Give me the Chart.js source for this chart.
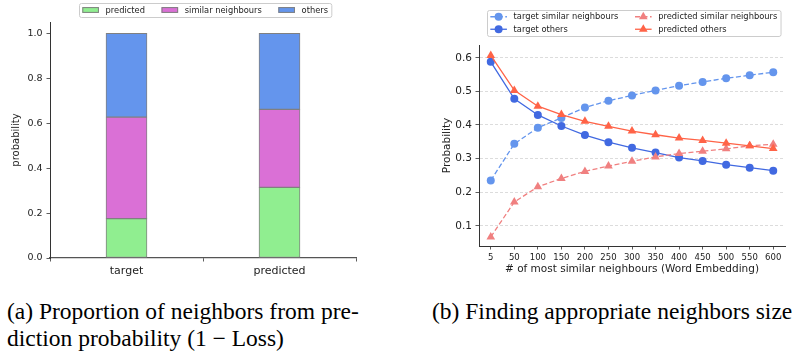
<html>
<head>
<script src="https://cdn.jsdelivr.net/npm/chart.js"></script>
<style>
  body { margin:0; width:797px; height:358px; background:#fff; position:relative; overflow:hidden; }
  .box { position:absolute; top:0; height:285px; }
  .cap { position:absolute; font-family:"Liberation Serif","Times New Roman",serif; font-size:23.5px; line-height:27px; color:#000; white-space:nowrap; }
</style>
</head>
<body>
<div class="box" style="left:0;width:400px"><canvas id="barChart"></canvas></div>
<div class="box" style="left:400px;width:397px"><canvas id="lineChart"></canvas></div>
<div class="cap" style="left:7px;top:298px">(a) Proportion of neighbors from pre-<br>diction probability (1 &minus; Loss)</div>
<div class="cap" style="left:432px;top:298px">(b) Finding appropriate neighbors size</div>
<script>
// left chart: stacked proportions
var barCategories = ['target', 'predicted'];
var barPredicted = [0.175, 0.314];
var barSimilar = [0.452, 0.347];
var barOthers = [0.373, 0.339];

// right chart: probability vs neighbour count
var neighbourSizes = ['5', '50', '100', '150', '200', '250', '300', '350', '400', '450', '500', '550', '600'];
var targetSimilar = [0.235, 0.344, 0.392, 0.421, 0.452, 0.472, 0.488, 0.503, 0.517, 0.528, 0.539, 0.548, 0.557];
var targetOthers = [0.588, 0.478, 0.430, 0.397, 0.370, 0.349, 0.332, 0.318, 0.303, 0.293, 0.282, 0.273, 0.264];
var predictedSimilar = [0.067, 0.171, 0.216, 0.241, 0.262, 0.278, 0.292, 0.305, 0.315, 0.322, 0.329, 0.338, 0.343];
var predictedOthers = [0.607, 0.503, 0.456, 0.431, 0.411, 0.396, 0.382, 0.371, 0.361, 0.354, 0.346, 0.338, 0.330];

Chart.defaults.font.family = '"DejaVu Sans", sans-serif';
Chart.defaults.color = '#222';

// matplotlib-like framed legend drawn on the canvas
var frameLegend = {
  id: 'frameLegend',
  afterDraw: function(chart, args, opts) {
    var ctx = chart.ctx;
    var ds = chart.data.datasets;
    var cols = opts.cols, rows = Math.ceil(ds.length / cols);
    var fs = opts.fontSize;
    var handle = 2 * fs, textPad = 0.8 * fs, colSpace = 2 * fs, pad = 0.4 * fs;
    ctx.save();
    ctx.font = fs + 'px "DejaVu Sans"';
    var colW = [];
    for (var c = 0; c < cols; c++) {
      var w = 0;
      for (var r = 0; r < rows; r++) {
        var i = c * rows + r;
        if (i < ds.length) w = Math.max(w, ctx.measureText(ds[i].label).width);
      }
      colW.push(w);
    }
    var width = pad * 2 + colSpace * (cols - 1);
    colW.forEach(function(w) { width += handle + textPad + w; });
    var height = opts.firstRow * 2 + opts.rowH * (rows - 1);

    ctx.fillStyle = 'rgba(255,255,255,0.85)';
    ctx.strokeStyle = '#cccccc';
    ctx.lineWidth = 1;
    ctx.beginPath();
    ctx.roundRect(opts.x + 0.5, opts.y + 0.5, width, height, 2);
    ctx.fill();
    ctx.stroke();

    var x = opts.x + pad;
    for (var c = 0; c < cols; c++) {
      for (var r = 0; r < rows; r++) {
        var i = c * rows + r;
        if (i >= ds.length) continue;
        var d = ds[i];
        var cy = opts.y + opts.firstRow + r * opts.rowH;
        if (opts.kind === 'bar') {
          ctx.fillStyle = d.backgroundColor;
          ctx.strokeStyle = d.borderColor;
          ctx.lineWidth = 1;
          ctx.fillRect(x, cy - 0.35 * fs, handle, 0.7 * fs);
          ctx.strokeRect(x + 0.5, cy - 0.35 * fs + 0.5, handle - 1, 0.7 * fs - 1);
        } else {
          ctx.strokeStyle = d.borderColor;
          ctx.lineWidth = d.borderWidth;
          ctx.setLineDash(d.borderDash || []);
          ctx.beginPath();
          ctx.moveTo(x, cy);
          ctx.lineTo(x + handle, cy);
          ctx.stroke();
          ctx.setLineDash([]);
          ctx.fillStyle = d.borderColor;
          var mx = x + handle / 2, rad = d.pointRadius;
          ctx.beginPath();
          if (d.pointStyle === 'triangle') {
            ctx.moveTo(mx, cy - rad);
            ctx.lineTo(mx + rad * 0.866, cy + rad * 0.5);
            ctx.lineTo(mx - rad * 0.866, cy + rad * 0.5);
            ctx.closePath();
          } else {
            ctx.arc(mx, cy, rad, 0, Math.PI * 2);
          }
          ctx.fill();
        }
        ctx.fillStyle = '#222';
        ctx.textBaseline = 'middle';
        ctx.textAlign = 'left';
        ctx.fillText(d.label, x + handle + textPad, cy + 0.5);
      }
      x += handle + textPad + colW[c] + colSpace;
    }
    ctx.restore();
  }
};

window.onload = function() {
  new Chart(document.getElementById('barChart').getContext('2d'), {
    type: 'bar',
    data: {
      labels: barCategories,
      datasets: [
        { label: 'predicted', data: barPredicted, backgroundColor: '#90EE90', borderColor: '#808080', borderWidth: 1, borderSkipped: false, barThickness: 41 },
        { label: 'similar neighbours', data: barSimilar, backgroundColor: '#DA70D6', borderColor: '#808080', borderWidth: 1, borderSkipped: false, barThickness: 41 },
        { label: 'others', data: barOthers, backgroundColor: '#6495ED', borderColor: '#808080', borderWidth: 1, borderSkipped: false, barThickness: 41 }
      ]
    },
    options: {
      responsive: true,
      maintainAspectRatio: false,
      animation: false,
      layout: { padding: { top: 22, right: 44, left: 0, bottom: 0 } },
      plugins: {
        legend: { display: false },
        tooltip: { enabled: false },
        frameLegend: { kind: 'bar', x: 79, y: 3, cols: 3, fontSize: 8.3, rowH: 12.5, firstRow: 7 }
      },
      scales: {
        x: {
          stacked: true,
          offset: true,
          grid: { display: true, drawOnChartArea: false, drawTicks: true, tickLength: 3.5, tickColor: '#333', tickWidth: 0.8 },
          border: { display: true, color: '#555', width: 1.2 },
          ticks: { font: { size: 11 }, padding: 3, color: '#222' },
          afterFit: function(scale) { scale.height = 27; }
        },
        y: {
          stacked: true,
          min: 0,
          max: 1.05,
          grid: { display: true, drawOnChartArea: false, drawTicks: true, tickLength: 3.5, tickColor: '#333', tickWidth: 0.8 },
          border: { display: true, color: '#333', width: 1 },
          ticks: { stepSize: 0.2, includeBounds: false, font: { size: 9.5 }, padding: 4, color: '#222',
            callback: function(v) { return v.toFixed(1); } },
          title: { display: true, text: 'probability', font: { size: 10 }, padding: { top: 10, bottom: 0 }, color: '#222' },
          afterFit: function(scale) { scale.width = 50; }
        }
      }
    },
    plugins: [frameLegend]
  });

  new Chart(document.getElementById('lineChart').getContext('2d'), {
    type: 'line',
    data: {
      labels: neighbourSizes,
      datasets: [
        { label: 'target similar neighbours', data: targetSimilar, borderColor: '#6495ED', backgroundColor: '#6495ED', borderWidth: 1.3, borderDash: [5, 2.5],
          pointStyle: 'circle', pointRadius: 4, pointBackgroundColor: '#6495ED', pointBorderWidth: 0, order: 4 },
        { label: 'target others', data: targetOthers, borderColor: '#4169E1', backgroundColor: '#4169E1', borderWidth: 1.3,
          pointStyle: 'circle', pointRadius: 4, pointBackgroundColor: '#4169E1', pointBorderWidth: 0, order: 3 },
        { label: 'predicted similar neighbours', data: predictedSimilar, borderColor: '#F08080', backgroundColor: '#F08080', borderWidth: 1.3, borderDash: [5, 2.5],
          pointStyle: 'triangle', pointRadius: 5, pointBackgroundColor: '#F08080', pointBorderWidth: 0, order: 2 },
        { label: 'predicted others', data: predictedOthers, borderColor: '#FF6347', backgroundColor: '#FF6347', borderWidth: 1.3,
          pointStyle: 'triangle', pointRadius: 5, pointBackgroundColor: '#FF6347', pointBorderWidth: 0, order: 1 }
      ]
    },
    options: {
      responsive: true,
      maintainAspectRatio: false,
      animation: false,
      layout: { padding: { top: 45, right: 12, left: 0, bottom: 0 } },
      plugins: {
        legend: { display: false },
        tooltip: { enabled: false },
        frameLegend: { kind: 'line', x: 87, y: 10, cols: 2, fontSize: 8.3, rowH: 12.5, firstRow: 6.75 }
      },
      scales: {
        x: {
          offset: true,
          grid: { display: true, drawOnChartArea: false, drawTicks: true, tickLength: 3.5, tickColor: '#333', tickWidth: 0.8 },
          border: { display: true, color: '#333', width: 1 },
          ticks: { font: { size: 8.5 }, padding: 3, color: '#222', maxRotation: 0, autoSkip: false },
          title: { display: true, text: '# of most similar neighbours (Word Embedding)', font: { size: 10.5 }, padding: { top: 0, bottom: 9 }, color: '#222' },
          afterFit: function(scale) { scale.height = 39; }
        },
        y: {
          min: 0.04,
          max: 0.638,
          grid: { display: true, drawOnChartArea: true, drawTicks: true, tickLength: 3.5, color: '#d3d3d3', lineWidth: 0.8, tickColor: '#333', tickWidth: 0.8 },
          border: { display: true, color: '#333', width: 1, dash: [3, 2] },
          ticks: { stepSize: 0.1, includeBounds: false, font: { size: 10.5 }, padding: 3.5, color: '#222',
            callback: function(v) { return v.toFixed(1); } },
          title: { display: true, text: 'Probability', font: { size: 10.5 }, padding: { top: 41, bottom: 0 }, color: '#222' },
          afterFit: function(scale) { scale.width = 79; }
        }
      }
    },
    plugins: [frameLegend]
  });
};
</script>
</body>
</html>
